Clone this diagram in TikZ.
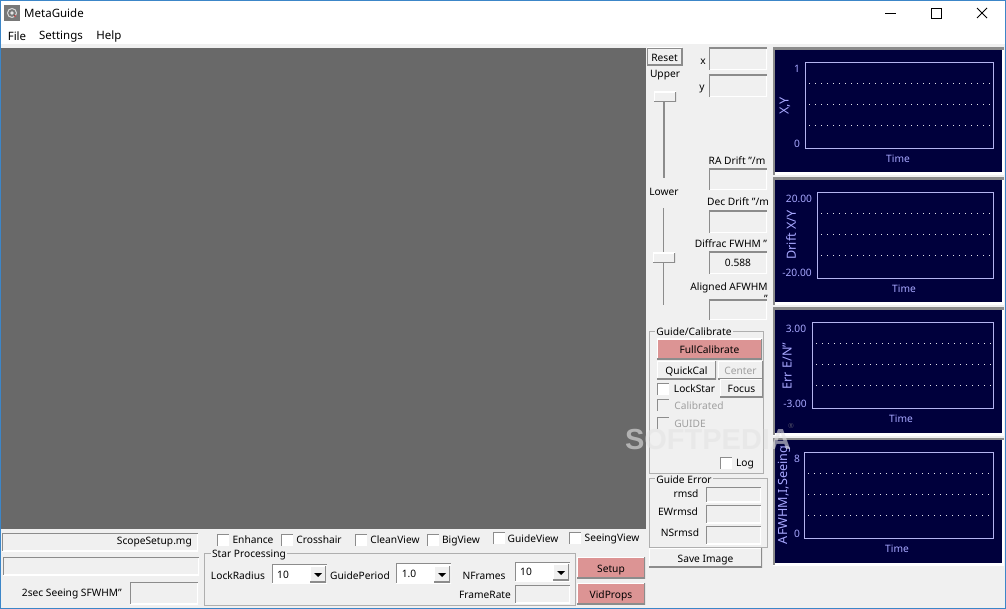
\documentclass[tikz,border=0pt]{standalone}
\usepackage{fontspec}
\setmainfont{Noto Sans}
\newfontfamily\markfont{Liberation Sans}
\definecolor{panel}{HTML}{F0F0F0}
\definecolor{canvas}{HTML}{696969}
\definecolor{winblue}{HTML}{3C86C8}
\definecolor{navy}{HTML}{00003C}
\definecolor{plotline}{HTML}{B4B4F0}
\definecolor{plottext}{HTML}{A8A8FF}
\definecolor{rose}{HTML}{DC9494}
\definecolor{edgedark}{HTML}{8C8C8C}
\definecolor{disabled}{HTML}{A0A0A0}
\definecolor{markgray}{HTML}{E4E4E4}
\tikzset{
    box/.style={anchor=north west, inner sep=0pt, outer sep=0pt},
    sunken/.style={box, fill=panel, path picture={
        \draw[white, line width=2pt] (path picture bounding box.north east)--(path picture bounding box.south east)--(path picture bounding box.south west);
        \draw[edgedark, line width=2.4pt] (path picture bounding box.south west)--(path picture bounding box.north west)--(path picture bounding box.north east);}},
    raised/.style={box, fill=panel, text height=9.5pt, text depth=0pt, font=\fontsize{10.2}{12}\selectfont, path picture={
        \draw[white, line width=2pt] (path picture bounding box.south west)--(path picture bounding box.north west)--(path picture bounding box.north east);
        \draw[edgedark, line width=2.4pt] (path picture bounding box.north east)--(path picture bounding box.south east)--(path picture bounding box.south west);}},
    rosebtn/.style={raised, fill=rose},
    check/.style={box, fill=white, minimum width=12pt, minimum height=12pt, path picture={
        \draw[edgedark, line width=2pt] (path picture bounding box.south west)--(path picture bounding box.north west)--(path picture bounding box.north east);}},
    grayed/.style={check, fill=panel},
    group/.style={box, draw=edgedark!70, line width=.8pt},
    lbl/.style={inner sep=0pt, yshift=-1pt, font=\fontsize{10.2}{12}\selectfont},
    grouplbl/.style={lbl, fill=panel, inner xsep=1pt},
    off/.style={lbl, text=disabled},
    plotbg/.style={box, fill=navy, path picture={
        \draw[white, line width=5pt] (path picture bounding box.north east)--(path picture bounding box.south east)--(path picture bounding box.south west);
        \draw[edgedark, line width=4pt] (path picture bounding box.south west)--(path picture bounding box.north west)--(path picture bounding box.north east);}},
    plotrect/.style={box, draw=plotline, line width=.8pt},
    plotlbl/.style={lbl, text=plottext},
    plotname/.style={plotlbl, rotate=90, yshift=1pt, font=\fontsize{12.6}{14}\selectfont},
    gridline/.style={white!90!navy, line width=.7pt, dash pattern=on 1pt off 5pt},
    thumb/.style={raised, minimum width=22pt, minimum height=10pt, text height=0pt},
    track/.style={edgedark, line width=1.6pt},
    arrowbtn/.style={raised, minimum width=16pt, minimum height=16pt}
}

\begin{document}
\begin{tikzpicture}[x=1pt, y=-1pt]
    \useasboundingbox (0,0) rectangle (1006,609);
    \fill[panel] (0,0) rectangle (1006,609);
    \fill[white] (0,0) rectangle (1006,44);
    \fill[canvas] (0,48) rectangle (646,529);
    \draw[winblue, line width=1.2pt] (.6,.6) rectangle (1005.4,608.4);

    % title bar and menu
    \node[box, fill=canvas!90, minimum width=16pt, minimum height=16pt] (icon) at (4,5) {};
    \draw[white!70!gray, line width=1pt] (icon.center) circle (4.5pt);
    \fill[white!80!gray] (icon.center) circle (1.8pt);
    \fill[red!70!black] (15,16) circle (.8pt);
    \node[lbl, yshift=1pt, font=\fontsize{11.5}{12}\selectfont] (title) at (54,13) {MetaGuide};
    \node[lbl, font=\fontsize{11.5}{12}\selectfont] (file) at (17,35.5) {File};
    \node[lbl, font=\fontsize{11.5}{12}\selectfont] (settings) at (61,35.5) {Settings};
    \node[lbl, font=\fontsize{11.5}{12}\selectfont] (help) at (109,35.5) {Help};
    \draw[black, line width=.9pt] (885,13.5)--(896,13.5);
    \draw[black, line width=.9pt] (931.5,8.5) rectangle (941.5,18.5);
    \draw[black, line width=.9pt] (977,8)--(987,18) (987,8)--(977,18);

    % sliders and position fields
    \node[raised, draw=edgedark, line width=.7pt, minimum width=35pt, minimum height=17pt] (reset) at (647,48) {Reset};
    \node[lbl] (upper) at (665,74) {Upper};
    \draw[track] (664,102)--(664,178);
    \node[thumb] (upperthumb) at (654,92) {};
    \node[lbl] (lower) at (664,191) {Lower};
    \draw[track] (663.5,208)--(663.5,305);
    \node[thumb] (lowerthumb) at (653,253) {};
    \node[lbl] (xlbl) at (703,61) {x};
    \node[sunken, minimum width=58pt, minimum height=22pt] (xfield) at (709,48) {};
    \node[lbl] (ylbl) at (702,88) {y};
    \node[sunken, minimum width=58pt, minimum height=22pt] (yfield) at (709,75) {};
    \node[lbl] (radrift) at (737,160) {RA Drift "/m};
    \node[sunken, minimum width=58pt, minimum height=21pt] (rafield) at (709,169) {};
    \node[lbl] (decdrift) at (738,201) {Dec Drift "/m};
    \node[sunken, minimum width=58pt, minimum height=22pt] (decfield) at (709,211) {};
    \node[lbl] (diffrac) at (731,243) {Diffrac FWHM "};
    \node[sunken, minimum width=58pt, minimum height=22pt, font=\fontsize{10.2}{12}\selectfont] (difffield) at (709,252) {0.588};
    \node[lbl] (aligned) at (729,287) {Aligned AFWHM};
    \node[lbl] (alignedmark) at (766,298) {"};
    \node[sunken, minimum width=58pt, minimum height=20pt] (alignedfield) at (709,300) {};

    % guide group
    \node[group, minimum width=114pt, minimum height=142pt] (guidebox) at (649,331) {};
    \node[grouplbl] (guidelbl) at (694,331) {Guide/Calibrate};
    \node[rosebtn, minimum width=105pt, minimum height=20pt] (fullcal) at (657,339) {FullCalibrate};
    \node[raised, minimum width=59pt, minimum height=18pt] (quickcal) at (657,361) {QuickCal};
    \node[raised, minimum width=45pt, minimum height=18pt, text=disabled] (center) at (718,361) {Center};
    \node[check] (lockcheck) at (657,383) {};
    \node[lbl] (locklbl) at (694.5,388) {LockStar};
    \node[raised, minimum width=43pt, minimum height=18pt] (focus) at (720,379) {Focus};
    \node[grayed] (calcheck) at (657,399) {};
    \node[off] (callbl) at (699,405) {Calibrated};
    \node[grayed] (guidecheck) at (657,417) {};
    \node[off] (guidetxt) at (690,422.5) {GUIDE};
    \node[check] (logcheck) at (720,457) {};
    \node[lbl] (loglbl) at (745,463) {Log};

    % guide error group
    \node[group, minimum width=118pt, minimum height=69pt] (errbox) at (649,478) {};
    \node[grouplbl] (errlbl) at (684,479) {Guide Error};
    \node[lbl] (rmsd) at (686,493) {rmsd};
    \node[sunken, minimum width=55pt, minimum height=15pt] (rmsdfield) at (706,487) {};
    \node[lbl] (ewrmsd) at (678,511) {EWrmsd};
    \node[sunken, minimum width=55pt, minimum height=18pt] (ewfield) at (706,505) {};
    \node[lbl] (nsrmsd) at (680,532) {NSrmsd};
    \node[sunken, minimum width=55pt, minimum height=18pt] (nsfield) at (706,526) {};
    \node[raised, minimum width=113pt, minimum height=19pt] (saveimage) at (649,548) {Save Image};

    % plot panels
    \foreach \id/\top/\rectx in {xy/48/805, drift/178/817, err/308/812, seeing/438/804}{
        \node[plotbg, minimum width=231pt, minimum height=127pt] (\id bg) at (773,\top) {};
        \pgfmathsetmacro{\recttop}{\top+14}
        \pgfmathsetmacro{\rectw}{993-\rectx}
        \node[plotrect, minimum width=\rectw pt, minimum height=86pt] (\id rect) at (\rectx,\recttop) {};
        \foreach \dy in {35,56,77}{
            \draw[gridline] (\rectx+4,\top+\dy)--(991,\top+\dy);
        }
    }
    \node[plotlbl] (xytop) at (797,68) {1};
    \node[plotlbl] (xybot) at (797,143) {0};
    \node[plotname] (xyname) at (786,105) {X,Y};
    \node[plotlbl] (xytime) at (898,158) {Time};
    \node[plotlbl] (drifttop) at (799,198) {20.00};
    \node[plotlbl] (driftbot) at (797,272) {-20.00};
    \node[plotname] (driftname) at (792,234) {Drift X/Y};
    \node[plotlbl] (drifttime) at (904,288) {Time};
    \node[plotlbl] (errtop) at (796,328) {3.00};
    \node[plotlbl] (errbot) at (795,403) {-3.00};
    \node[plotname] (errname) at (788,365) {Err E/N"};
    \node[plotlbl] (errtime) at (901,418) {Time};
    \node[plotlbl] (seeingtop) at (797,458) {8};
    \node[plotlbl] (seeingbot) at (797,533) {0};
    \node[plotname] (seeingname) at (785,494) {AFWHM,I,Seeing};
    \node[plotlbl] (seeingtime) at (897,548) {Time};

    % status fields
    \node[sunken, minimum width=196pt, minimum height=18pt] (scopefield) at (2,533) {};
    \node[lbl, anchor=east] (scopelbl) at (192,541) {ScopeSetup.mg};
    \node[sunken, minimum width=196pt, minimum height=18pt] (statusfield) at (3,557) {};
    \node[lbl, anchor=east] (seeinglbl) at (122,593) {2sec Seeing SFWHM"};
    \node[sunken, minimum width=68pt, minimum height=22pt] (seeingfield) at (130,582) {};

    % view options
    \node[check] (enhcheck) at (217,534) {};
    \node[lbl] (enhlbl) at (253,539) {Enhance};
    \node[check] (crosscheck) at (281,534) {};
    \node[lbl] (crosslbl) at (319,539) {Crosshair};
    \node[check] (cleancheck) at (355,534) {};
    \node[lbl] (cleanlbl) at (395,539) {CleanView};
    \node[check] (bigcheck) at (427,534) {};
    \node[lbl] (biglbl) at (461,540) {BigView};
    \node[check] (guideview) at (493,532) {};
    \node[lbl] (guideviewlbl) at (533,538) {GuideView};
    \node[check] (seeingview) at (569,532) {};
    \node[lbl] (seeingviewlbl) at (612,538) {SeeingView};

    % star processing group
    \node[group, minimum width=371pt, minimum height=52pt] (starbox) at (204,553) {};
    \node[grouplbl] (starlbl) at (249,554) {Star Processing};
    \node[lbl] (lockradius) at (238,575) {LockRadius};
    \node[sunken, fill=white, minimum width=55pt, minimum height=19pt] (lockcombo) at (272,564) {};
    \node[lbl] (lockvalue) at (283,574) {10};
    \node[arrowbtn] (lockarrow) at (310,566) {};
    \fill (314,573)--(322,573)--(318,577)--cycle;
    \node[lbl] (guideperiod) at (360,575) {GuidePeriod};
    \node[sunken, fill=white, minimum width=55pt, minimum height=20pt] (periodcombo) at (396,563) {};
    \node[lbl] (periodvalue) at (409,573) {1.0};
    \node[arrowbtn] (periodarrow) at (434,566) {};
    \fill (438,573)--(446,573)--(442,577)--cycle;
    \node[lbl] (nframes) at (484,575) {NFrames};
    \node[sunken, fill=white, minimum width=55pt, minimum height=19pt] (framescombo) at (515,562) {};
    \node[lbl] (framesvalue) at (526,571) {10};
    \node[arrowbtn] (framesarrow) at (553,564) {};
    \fill (557,571)--(565,571)--(561,575)--cycle;
    \node[lbl] (framerate) at (485,594) {FrameRate};
    \node[sunken, minimum width=55pt, minimum height=18pt] (ratefield) at (515,585) {};
    \node[rosebtn, minimum width=68pt, minimum height=21pt] (setup) at (577,557) {Setup};
    \node[rosebtn, minimum width=68pt, minimum height=21pt] (vidprops) at (577,583) {VidProps};

    % watermark
    \node[inner sep=0pt, text=markgray, text opacity=.6, font=\fontsize{29}{30}\selectfont\markfont\bfseries] (softpedia) at (708,440) {SOFTPEDIA};
    \node[inner sep=0pt, text=gray, text opacity=.6, font=\fontsize{7}{8}\selectfont] (softmark) at (791,426) {®};
\end{tikzpicture}
\end{document}
